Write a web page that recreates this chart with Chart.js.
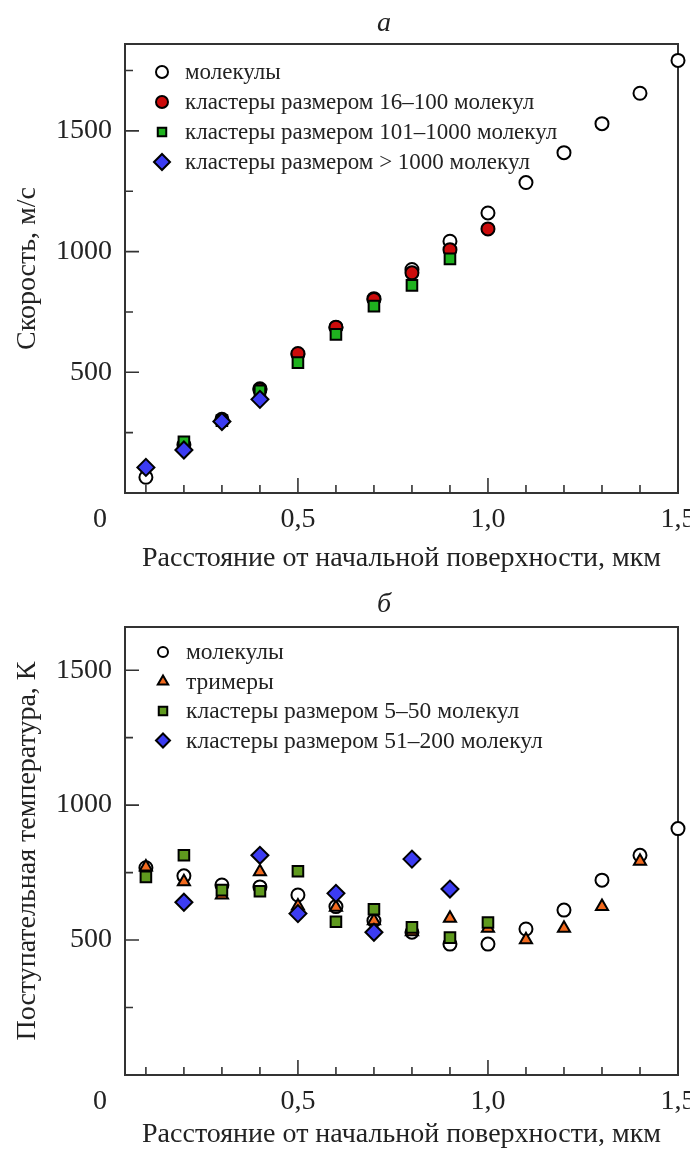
<!DOCTYPE html>
<html>
<head>
<meta charset="utf-8">
<script src="https://cdn.jsdelivr.net/npm/chart.js@4.4.1/dist/chart.umd.min.js"></script>
<style>
  html, body { margin: 0; padding: 0; background: #fff; }
  canvas { display: block; }
</style>
</head>
<body>
<canvas id="chartA" width="690" height="575"></canvas>
<canvas id="chartB" width="690" height="576"></canvas>
<script>
// ---- Panel а: velocity vs distance ----
const distMoleculesA = [0.1, 0.2, 0.3, 0.4, 0.5, 0.6, 0.7, 0.8, 0.9, 1.0, 1.1, 1.2, 1.3, 1.4, 1.5];
const velMolecules   = [65, 200, 305, 432, 575, 686, 805, 926, 1043, 1160, 1286, 1410, 1530, 1656, 1792];
const distSmallA     = [0.4, 0.5, 0.6, 0.7, 0.8, 0.9, 1.0];
const velSmall       = [428, 578, 687, 802, 912, 1008, 1094];
const distMediumA    = [0.2, 0.3, 0.4, 0.5, 0.6, 0.7, 0.8, 0.9];
const velMedium      = [212, 300, 423, 540, 657, 774, 860, 970];
const distLargeA     = [0.1, 0.2, 0.3, 0.4];
const velLarge       = [106, 178, 296, 388];

// ---- Panel б: translational temperature vs distance ----
const distMoleculesB = [0.1, 0.2, 0.3, 0.4, 0.5, 0.6, 0.7, 0.8, 0.9, 1.0, 1.1, 1.2, 1.3, 1.4, 1.5];
const tempMolecules  = [768, 738, 704, 697, 667, 624, 572, 529, 485, 485, 541, 611, 722, 814, 913];
const distTrimers    = [0.1, 0.2, 0.3, 0.4, 0.5, 0.6, 0.7, 0.8, 0.9, 1.0, 1.1, 1.2, 1.3, 1.4];
const tempTrimers    = [771, 716, 667, 753, 626, 622, 572, 531, 581, 544, 501, 544, 624, 792];
const distSmallB     = [0.1, 0.2, 0.3, 0.4, 0.5, 0.6, 0.7, 0.8, 0.9, 1.0];
const tempSmall      = [734, 814, 685, 681, 755, 568, 614, 547, 509, 565];
const distLargeB     = [0.2, 0.4, 0.5, 0.6, 0.7, 0.8, 0.9];
const tempLarge      = [640, 814, 598, 673, 529, 800, 689];

// ---- Axes ----
const xTickValues = [0.1, 0.2, 0.3, 0.4, 0.5, 0.6, 0.7, 0.8, 0.9, 1.0, 1.1, 1.2, 1.3, 1.4, 1.5];
const xLabelled   = [0.5, 1.0, 1.5];
const yTicksA     = [250, 500, 750, 1000, 1250, 1500, 1750];
const yTicksB     = [250, 500, 750, 1000, 1250, 1500];
const yLabelled   = [500, 1000, 1500];

const SERIF = '"Liberation Serif", "DejaVu Serif", "Times New Roman", serif';
const INK = '#222';
const TICK_FONT = 28;
const TITLE_FONT = 28;
const X_LABEL_PAD = 10;

const pts = (xs, ys) => xs.map((x, i) => ({ x, y: ys[i] }));
const isLabelled = (list, v) => list.some(t => Math.abs(t - v) < 1e-6);

function drawMarker(ctx, style, r, x, y, fill) {
  ctx.save();
  ctx.fillStyle = fill;
  ctx.strokeStyle = '#000';
  ctx.lineWidth = 2;
  if (Chart.helpers && Chart.helpers.drawPoint) {
    Chart.helpers.drawPoint(ctx, { pointStyle: style, radius: r, rotation: 0, borderWidth: 2 }, x, y);
  } else {
    ctx.beginPath();
    ctx.arc(x, y, r, 0, Math.PI * 2);
    ctx.fill(); ctx.stroke();
  }
  ctx.restore();
}

function panelPlugin(opts) {
  return {
    id: 'panel',
    beforeDatasetsDraw(chart) {
      const { ctx, chartArea: a, scales: { x, y } } = chart;
      ctx.save();
      ctx.strokeStyle = '#333';
      ctx.lineWidth = 2;
      ctx.strokeRect(a.left, a.top, a.right - a.left, a.bottom - a.top);
      ctx.lineWidth = 1.6;
      ctx.beginPath();
      x.ticks.forEach(t => {
        const px = x.getPixelForValue(t.value);
        const len = isLabelled(xLabelled, t.value) ? 15 : 8;
        ctx.moveTo(px, a.bottom);
        ctx.lineTo(px, a.bottom - len);
      });
      y.ticks.forEach(t => {
        const py = y.getPixelForValue(t.value);
        const len = isLabelled(yLabelled, t.value) ? 14 : 8;
        ctx.moveTo(a.left, py);
        ctx.lineTo(a.left + len, py);
      });
      ctx.stroke();
      ctx.restore();
    },
    afterDraw(chart) {
      const { ctx, chartArea: a } = chart;
      ctx.save();
      ctx.fillStyle = INK;
      // panel letter
      ctx.font = 'italic 28px ' + SERIF;
      ctx.textAlign = 'center';
      ctx.textBaseline = 'middle';
      ctx.fillText(opts.letter, opts.letterX, opts.letterY);
      // shared origin label
      ctx.font = TICK_FONT + 'px ' + SERIF;
      ctx.fillText('0', a.left - 25, a.bottom + X_LABEL_PAD + TICK_FONT * 0.6);
      // legend
      ctx.font = opts.legendFont + 'px ' + SERIF;
      ctx.textAlign = 'left';
      opts.legend.forEach((item, i) => {
        const ly = opts.legendY + i * opts.legendStep;
        drawMarker(ctx, item.style, item.r, opts.legendX, ly, item.color);
        ctx.fillStyle = INK;
        ctx.fillText(item.label, opts.legendX + 23, ly + 1);
      });
      ctx.restore();
    }
  };
}

function makeOptions(yMax, yTicks, yTitle, padTop, xHeight) {
  return {
    responsive: false,
    animation: false,
    devicePixelRatio: 1,
    layout: { padding: { left: 0, right: 12, top: padTop, bottom: 0 } },
    plugins: { legend: { display: false }, tooltip: { enabled: false }, title: { display: false } },
    scales: {
      x: {
        type: 'linear',
        min: 0.045,
        max: 1.5,
        grid: { display: false, drawTicks: false },
        border: { display: false },
        afterBuildTicks: s => { s.ticks = xTickValues.map(v => ({ value: v })); },
        afterFit: s => { s.height = xHeight; s.paddingLeft = 0; s.paddingRight = 0; },
        ticks: {
          autoSkip: false,
          maxRotation: 0,
          padding: X_LABEL_PAD,
          color: INK,
          font: { family: SERIF, size: TICK_FONT },
          callback: v => isLabelled(xLabelled, v) ? v.toFixed(1).replace('.', ',') : ''
        },
        title: {
          display: true,
          text: 'Расстояние от начальной поверхности, мкм',
          color: INK,
          font: { family: SERIF, size: TITLE_FONT },
          padding: { top: 0, bottom: 0 }
        }
      },
      y: {
        type: 'linear',
        min: 0,
        max: yMax,
        grid: { display: false, drawTicks: false },
        border: { display: false },
        afterBuildTicks: s => { s.ticks = yTicks.map(v => ({ value: v })); },
        afterFit: s => { s.width = 125; s.paddingTop = 0; s.paddingBottom = 0; },
        ticks: {
          autoSkip: false,
          padding: 13,
          color: INK,
          font: { family: SERIF, size: TICK_FONT },
          callback: v => isLabelled(yLabelled, v) ? String(v) : ''
        },
        title: {
          display: true,
          text: yTitle,
          color: INK,
          font: { family: SERIF, size: TITLE_FONT },
          padding: { top: 11, bottom: 0 }
        }
      }
    }
  };
}

function series(label, data, style, r, color, order) {
  return {
    label, data, order,
    pointStyle: style,
    pointRadius: r,
    pointBackgroundColor: color,
    pointBorderColor: '#000',
    pointBorderWidth: 2,
    showLine: false,
    clip: false
  };
}

const WHITE = '#ffffff', RED = '#cc0b0b', GREEN_A = '#1fb21f', BLUE = '#3c3cf2',
      ORANGE = '#f26a1e', GREEN_B = '#5f9a1e';

new Chart(document.getElementById('chartA'), {
  type: 'scatter',
  data: {
    datasets: [
      series('молекулы', pts(distMoleculesA, velMolecules), 'circle', 6.5, WHITE, 4),
      series('кластеры размером 16–100 молекул', pts(distSmallA, velSmall), 'circle', 6.5, RED, 3),
      series('кластеры размером 101–1000 молекул', pts(distMediumA, velMedium), 'rect', 7.5, GREEN_A, 2),
      series('кластеры размером > 1000 молекул', pts(distLargeA, velLarge), 'rectRot', 8.5, BLUE, 1)
    ]
  },
  options: makeOptions(1860, yTicksA, 'Скорость, м/с', 44, 82),
  plugins: [panelPlugin({
    letter: 'а', letterX: 384, letterY: 24,
    legendX: 162, legendY: 72, legendStep: 30, legendFont: 23,
    legend: [
      { label: 'молекулы', style: 'circle', r: 6, color: WHITE },
      { label: 'кластеры размером 16–100 молекул', style: 'circle', r: 6, color: RED },
      { label: 'кластеры размером 101–1000 молекул', style: 'rect', r: 6, color: GREEN_A },
      { label: 'кластеры размером > 1000 молекул', style: 'rectRot', r: 8, color: BLUE }
    ]
  })]
});

new Chart(document.getElementById('chartB'), {
  type: 'scatter',
  data: {
    datasets: [
      series('молекулы', pts(distMoleculesB, tempMolecules), 'circle', 6.5, WHITE, 4),
      series('тримеры', pts(distTrimers, tempTrimers), 'triangle', 7, ORANGE, 3),
      series('кластеры размером 5–50 молекул', pts(distSmallB, tempSmall), 'rect', 7.5, GREEN_B, 2),
      series('кластеры размером 51–200 молекул', pts(distLargeB, tempLarge), 'rectRot', 8.5, BLUE, 1)
    ]
  },
  options: makeOptions(1660, yTicksB, 'Поступательная температура, К', 52, 76),
  plugins: [panelPlugin({
    letter: 'б', letterX: 384, letterY: 30,
    legendX: 163, legendY: 77, legendStep: 29.5, legendFont: 23.5,
    legend: [
      { label: 'молекулы', style: 'circle', r: 5, color: WHITE },
      { label: 'тримеры', style: 'triangle', r: 6, color: ORANGE },
      { label: 'кластеры размером 5–50 молекул', style: 'rect', r: 6, color: GREEN_B },
      { label: 'кластеры размером 51–200 молекул', style: 'rectRot', r: 7, color: BLUE }
    ]
  })]
});
</script>
</body>
</html>
